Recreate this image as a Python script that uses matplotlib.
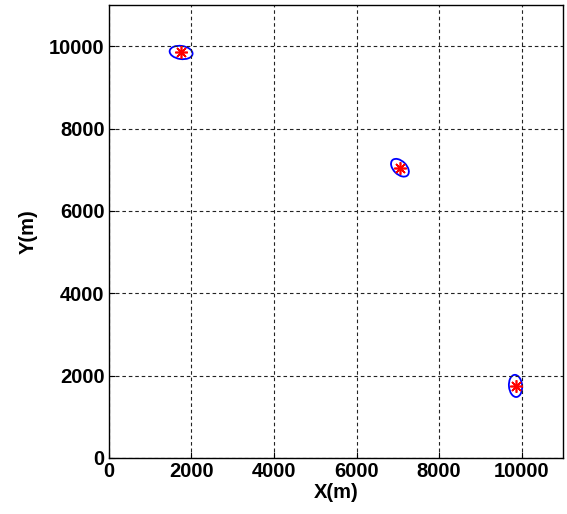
import matplotlib
matplotlib.use("Agg")
import matplotlib.pyplot as plt
from matplotlib.patches import Ellipse

# data
target_x = [1750, 7050, 9850]
target_y = [9850, 7050, 1750]
ell_width = [560, 520, 540]    # major axis (m)
ell_height = [320, 320, 320]   # minor axis (m)
ell_angle = [-8, -45, 95]      # degrees
xticks = [0, 2000, 4000, 6000, 8000, 10000]
yticks = [0, 2000, 4000, 6000, 8000, 10000]

plt.rcParams['font.family'] = ['Liberation Sans', 'DejaVu Sans']
fig = plt.figure(figsize=(5.67, 5.14), dpi=100)
ax = fig.add_axes([0.192, 0.109, 0.801, 0.881])

for x, y, w, h, a in zip(target_x, target_y, ell_width, ell_height, ell_angle):
    ax.add_patch(Ellipse((x, y), w, h, angle=a, fill=False, edgecolor='blue', linewidth=1.3))
ax.plot(target_x, target_y, linestyle='none', marker=(8, 2, 0), color='red', markersize=9, markeredgewidth=1.2)

ax.set_xlim(0, 11000)
ax.set_ylim(0, 11000)
ax.set_xticks(xticks)
ax.set_yticks(yticks)
ax.tick_params(direction='in', length=4, labelsize=14.5, width=0.8, pad=3)
for lbl in ax.get_xticklabels() + ax.get_yticklabels():
    lbl.set_fontweight('bold')
ax.grid(True, color='#222222', linestyle=(0, (3.2, 2.6)), linewidth=0.8)
ax.set_xlabel('X(m)', fontsize=14.5, fontweight='bold', labelpad=1)
ax.set_ylabel('Y(m)', fontsize=14.5, fontweight='bold', labelpad=8)
for s in ax.spines.values():
    s.set_linewidth(1.0)

fig.savefig('out.png', dpi=100)
